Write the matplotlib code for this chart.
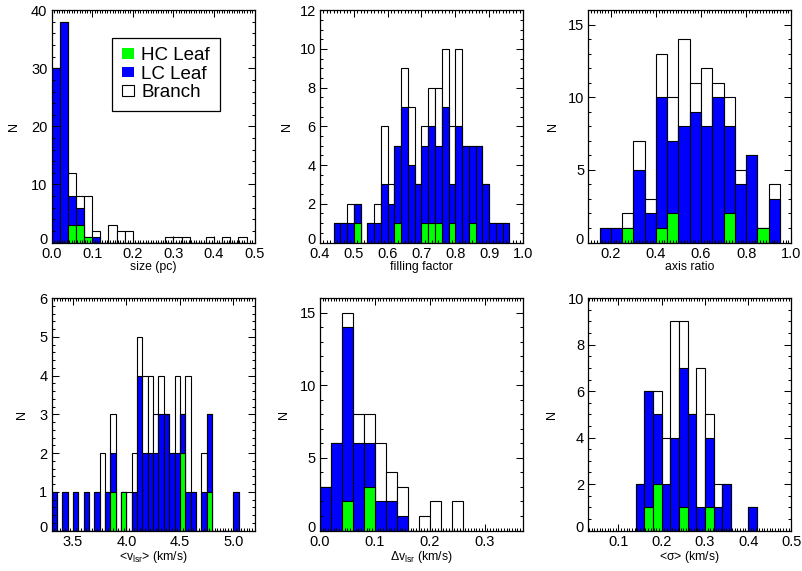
import matplotlib
matplotlib.use("Agg")
import matplotlib.pyplot as plt
import matplotlib.transforms as mtrans
from matplotlib.patches import Patch
from matplotlib.ticker import MultipleLocator, FormatStrFormatter
import numpy as np

plt.rcParams["font.family"] = ["Liberation Sans", "DejaVu Sans"]
plt.rcParams["mathtext.fontset"] = "custom"
plt.rcParams["mathtext.rm"] = "Liberation Sans"
plt.rcParams["mathtext.it"] = "Liberation Sans"

# size (pc), bins of 0.02 from 0.0
size_bin = (0.0, 0.02)
size_all = [30, 38, 12, 8, 8, 2, 0, 3, 2, 2, 0, 0, 0, 0, 1, 1, 1, 0, 0, 1, 0, 1, 0, 1]
size_leaf = [30, 38, 8, 6, 1, 1, 0, 0, 0, 0, 0, 0, 0, 0, 0, 0, 0, 0, 0, 0, 0, 0, 0, 0]
size_hc = [0, 0, 3, 3, 1, 0, 0, 0, 0, 0, 0, 0, 0, 0, 0, 0, 0, 0, 0, 0, 0, 0, 0, 0]

# filling factor, bins of 0.02 from 0.44
ff_bin = (0.44, 0.02)
ff_all = [1, 1, 2, 2, 0, 1, 2, 6, 3, 5, 9, 7, 3, 6, 8, 8, 10, 6, 10, 5, 5, 5, 3, 1, 1, 1]
ff_leaf = [1, 1, 1, 2, 0, 1, 1, 3, 2, 5, 7, 4, 3, 5, 6, 5, 7, 3, 6, 5, 5, 5, 3, 1, 1, 1]
ff_hc = [0, 0, 0, 1, 0, 0, 0, 0, 0, 1, 0, 0, 0, 1, 1, 1, 0, 1, 0, 0, 1, 0, 0, 0, 0, 0]

# axis ratio, bins of 0.05 from 0.15
ar_bin = (0.15, 0.05)
ar_all = [1, 1, 2, 7, 3, 13, 10, 14, 11, 12, 11, 10, 5, 6, 1, 4]
ar_leaf = [1, 1, 1, 5, 2, 10, 7, 8, 9, 8, 10, 8, 4, 6, 1, 3]
ar_hc = [0, 0, 1, 0, 0, 1, 2, 0, 0, 0, 0, 2, 0, 0, 1, 0]

# <vlsr>, bins of 0.05 from 3.30
vl_bin = (3.30, 0.05)
vl_all = [1, 0, 1, 0, 1, 0, 1, 0, 1, 2, 1, 3, 0, 1, 1, 2, 5, 4, 4, 3, 4, 3, 2, 4, 3, 4,
          1, 0, 2, 3, 0, 0, 0, 0, 1, 0]
vl_leaf = [1, 0, 1, 0, 1, 0, 1, 0, 1, 0, 1, 2, 0, 1, 0, 1, 4, 2, 2, 2, 3, 3, 2, 2, 3, 1,
           1, 0, 1, 3, 0, 0, 0, 0, 1, 0]
vl_hc = [0, 0, 0, 0, 0, 0, 0, 0, 0, 0, 0, 1, 0, 1, 0, 0, 0, 0, 0, 0, 0, 0, 0, 0, 2, 0,
         0, 0, 0, 1, 0, 0, 0, 0, 0, 0]

# delta vlsr, bins of 0.02 from 0.0
dv_bin = (0.0, 0.02)
dv_all = [3, 6, 15, 8, 8, 6, 4, 3, 0, 1, 2, 0, 2]
dv_leaf = [3, 6, 14, 6, 6, 2, 2, 1, 0, 0, 0, 0, 0]
dv_hc = [0, 0, 2, 0, 3, 0, 0, 0, 0, 0, 0, 0, 0]

# <sigma>, bins of 0.02 from 0.14
sg_bin = (0.14, 0.02)
sg_all = [2, 6, 6, 4, 9, 9, 5, 7, 5, 2, 2, 0, 0, 1]
sg_leaf = [2, 6, 5, 2, 4, 7, 5, 1, 4, 1, 2, 0, 0, 1]
sg_hc = [0, 1, 2, 0, 0, 1, 0, 0, 1, 0, 0, 0, 0, 0]

panels = [
    (size_bin, size_all, size_leaf, size_hc, "size (pc)", (0.0, 0.5), 0.1, 0.00625, (0, 40), 10, 2, -0.155),
    (ff_bin, ff_all, ff_leaf, ff_hc, "filling factor", (0.4, 1.0), 0.1, 0.01, (0, 12), 2, 0.5, -0.135),
    (ar_bin, ar_all, ar_leaf, ar_hc, "axis ratio", (0.1, 1.0), 0.2, 0.0125, (0, 16), 5, 1, -0.142),
    (vl_bin, vl_all, vl_leaf, vl_hc, r"<v$_{\rm lsr}$> (km/s)", (3.3, 5.2), 0.5, 0.025, (0, 6), 1, 0.2, -0.115),
    (dv_bin, dv_all, dv_leaf, dv_hc, r"$\Delta$v$_{\rm lsr}$ (km/s)", (0.0, 0.37), 0.1, 0.005, (0, 16), 5, 1, -0.15),
    (sg_bin, sg_all, sg_leaf, sg_hc, r"<$\sigma$> (km/s)", (0.03, 0.5), 0.1, 0.00625, (0, 10), 2, 0.5, -0.147),
]

fig = plt.figure(figsize=(8.02, 5.71), dpi=100)

lefts = [0.0644, 0.399, 0.7335]
bottoms = [0.5753, 0.0709]
w, h = 0.2531, 0.4068

axes = []
for i, p in enumerate(panels):
    (start, bw), tot, leaf, hc, xlab, xr, xmaj, xmin, yr, ymaj, ymin, ylx = p
    ax = fig.add_axes([lefts[i % 3], bottoms[i // 3], w, h])
    axes.append(ax)
    edges = start + bw * np.arange(len(tot))
    ax.bar(edges, tot, bw, align="edge", color="white", edgecolor="black", linewidth=0.8)
    ax.bar(edges, leaf, bw, align="edge", color="#0000ff", edgecolor="black", linewidth=0.8)
    ax.bar(edges, hc, bw, align="edge", color="#00ff00", edgecolor="black", linewidth=0.8)

    ax.set_xlim(*xr)
    ax.set_ylim(*yr)
    ax.xaxis.set_major_locator(MultipleLocator(xmaj))
    ax.xaxis.set_minor_locator(MultipleLocator(xmin))
    ax.yaxis.set_major_locator(MultipleLocator(ymaj))
    ax.yaxis.set_minor_locator(MultipleLocator(ymin))
    ax.xaxis.set_major_formatter(FormatStrFormatter("%.1f"))
    ax.yaxis.set_major_formatter(FormatStrFormatter("%d"))
    ax.tick_params(which="both", direction="in", top=True, right=True, width=0.75,
                   labelsize=10.5)
    ax.tick_params(axis="x", pad=3.5)
    ax.tick_params(axis="y", pad=3)
    ax.tick_params(which="major", length=5)
    ax.tick_params(which="minor", length=2.5)
    for s in ax.spines.values():
        s.set_linewidth(0.9)
    ax.set_xlabel(xlab, fontsize=8.8, labelpad=0)
    ax.set_ylabel("N", fontsize=9)
    ax.yaxis.set_label_coords(ylx, 0.5)

    if i == 0:
        handles = [Patch(facecolor="#00ff00", edgecolor="none"),
                   Patch(facecolor="#0000ff", edgecolor="none"),
                   Patch(facecolor="white", edgecolor="black", linewidth=0.8)]
        leg = ax.legend(handles, ["HC Leaf", "LC Leaf", "Branch"], loc="upper left",
                        bbox_to_anchor=(0.299, 0.881), borderaxespad=0, fontsize=13.5,
                        handlelength=0.65, handleheight=0.5, handletextpad=0.4,
                        borderpad=0.5, labelspacing=0.08, fancybox=False, framealpha=1)
        leg.get_frame().set_edgecolor("black")
        leg.get_frame().set_linewidth(0.9)

# lift the "0" y labels a little so they clear the x labels in the corner
fig.canvas.draw()
lift = mtrans.ScaledTranslation(0, 3 / 72, fig.dpi_scale_trans)
for ax in axes:
    for tk in ax.yaxis.get_major_ticks():
        if tk.label1.get_text() == "0":
            tk.label1.set_transform(tk.label1.get_transform() + lift)

fig.savefig("out.png", dpi=100)
